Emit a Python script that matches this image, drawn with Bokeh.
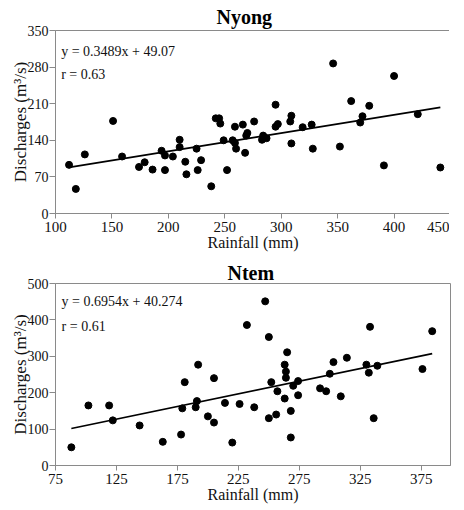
from bokeh.plotting import figure
from bokeh.layouts import column
from bokeh.models import Label, FixedTicker, Range1d
from bokeh.embed import file_html
from bokeh.resources import INLINE

# ---------------- data ----------------
nyong_rain = [112, 118, 126, 151, 159, 174, 179, 186, 194, 197, 197, 204, 210, 210,
              215, 216, 225, 226, 229, 238, 242, 245, 246, 249, 252, 257, 259, 259,
              260, 266, 268, 269, 270, 276, 284, 283, 287, 295, 297, 295, 308, 309,
              309, 319, 327, 328, 346, 352, 362, 370, 372, 378, 391, 400, 421, 441]
nyong_q = [93, 47, 113, 177, 109, 89, 98, 84, 120, 111, 83, 109, 141, 127,
           99, 75, 124, 83, 102, 52, 182, 182, 172, 140, 83, 140, 166, 135,
           124, 170, 116, 149, 154, 176, 149, 141, 144, 166, 171, 208, 176, 187,
           134, 165, 170, 124, 287, 128, 215, 174, 186, 206, 92, 263, 190, 88]

ntem_rain = [88, 102, 119, 122, 144, 163, 178, 179, 181, 190, 191, 192, 200, 205,
             205, 214, 220, 226, 232, 238, 247, 250, 250, 252, 256, 257, 263, 263,
             264, 264, 265, 268, 268, 270, 274, 274, 292, 297, 300, 303, 314, 309,
             330, 332, 333, 336, 339, 376, 384]
ntem_q = [50, 165, 165, 124, 110, 65, 85, 157, 229, 160, 177, 277, 135, 118,
          240, 172, 63, 169, 386, 160, 451, 353, 130, 229, 140, 204, 184, 277,
          258, 241, 311, 77, 150, 219, 232, 193, 212, 204, 252, 284, 296, 190,
          277, 255, 381, 130, 274, 265, 369]

nyong_slope, nyong_intercept, nyong_r = 0.3489, 49.07, 0.63
ntem_slope, ntem_intercept, ntem_r = 0.6954, 40.274, 0.61

nyong_xticks = [100, 150, 200, 250, 300, 350, 400, 450]
nyong_yticks = [0, 70, 140, 210, 280, 350]
ntem_xticks = [75, 125, 175, 225, 275, 325, 375]
ntem_yticks = [0, 100, 200, 300, 400, 500]

FONT = "Liberation Serif"
GREY = "#8a8a8a"


def make_panel(title, rain, q, slope, intercept, r, eq_text, xr, yr, xt, yt,
               frame_h, borders, title_offset, title_standoff, eq_pos):
    p = figure(frame_width=395, frame_height=frame_h, output_backend="svg",
               toolbar_location=None, x_range=Range1d(*xr), y_range=Range1d(*yr),
               min_border_left=borders[0], min_border_right=borders[1],
               min_border_top=borders[2], min_border_bottom=borders[3])
    p.title.text = title
    p.title.text_font = FONT
    p.title.text_font_size = "20px"
    p.title.text_font_style = "bold"
    p.title.align = "left"
    p.title.offset = title_offset
    p.title.standoff = title_standoff
    p.title.text_color = "black"

    p.xgrid.visible = False
    p.ygrid.visible = False
    p.outline_line_color = GREY
    p.outline_line_width = 1
    p.background_fill_color = "white"
    p.border_fill_color = "white"

    p.xaxis.ticker = FixedTicker(ticks=xt)
    p.yaxis.ticker = FixedTicker(ticks=yt)
    for ax in (p.xaxis[0], p.yaxis[0]):
        ax.axis_line_color = GREY
        ax.major_tick_line_color = GREY
        ax.minor_tick_line_color = None
        ax.major_tick_in = 0
        ax.major_label_text_font = FONT
        ax.major_label_text_color = "#111111"
        ax.axis_label_text_font = FONT
        ax.axis_label_text_font_style = "normal"
        ax.axis_label_text_color = "#111111"
    p.xaxis.axis_label_text_font_size = "16px"
    p.yaxis.axis_label_text_font_size = "17px"
    p.xaxis.major_tick_out = 5
    p.yaxis.major_tick_out = 6
    p.xaxis.major_label_text_font_size = "15px"
    p.yaxis.major_label_text_font_size = "14px"
    p.xaxis.major_label_standoff = 3
    p.yaxis.major_label_standoff = 1
    p.xaxis.axis_label = "Rainfall (mm)"
    p.yaxis.axis_label = "Discharges (m\u00b3/s)"
    p.xaxis.axis_label_standoff = -1
    p.yaxis.axis_label_standoff = -5

    p.scatter(rain, q, size=7, color="black")
    x0, x1 = min(rain), max(rain)
    p.line([x0, x1], [slope * x0 + intercept, slope * x1 + intercept],
           line_color="black", line_width=1.6)

    p.add_layout(Label(x=eq_pos[0], y=eq_pos[1], text=eq_text,
                       text_font=FONT, text_font_size="14px",
                       text_color="#111111", text_baseline="alphabetic"))
    p.add_layout(Label(x=eq_pos[0], y=eq_pos[2], text="r = %.2f" % r,
                       text_font=FONT, text_font_size="14px",
                       text_color="#111111", text_baseline="alphabetic"))
    return p


p1 = make_panel("Nyong", nyong_rain, nyong_q, nyong_slope, nyong_intercept, nyong_r,
                "y = 0.3489x + 49.07", (100, 450), (0, 350),
                nyong_xticks, nyong_yticks, frame_h=183,
                borders=(50, 4, 23, 10),
                title_offset=161, title_standoff=6, eq_pos=(105, 309, 265))
p2 = make_panel("Ntem", ntem_rain, ntem_q, ntem_slope, ntem_intercept, ntem_r,
                "y = 0.6954x + 40.274", (75, 399), (0, 500),
                ntem_xticks, ntem_yticks, frame_h=182,
                borders=(55, 2, 30, 10),
                title_offset=172, title_standoff=0, eq_pos=(80, 450, 383))

layout = column(p1, p2, spacing=0)
open("out.html", "w").write(file_html(layout, INLINE))
